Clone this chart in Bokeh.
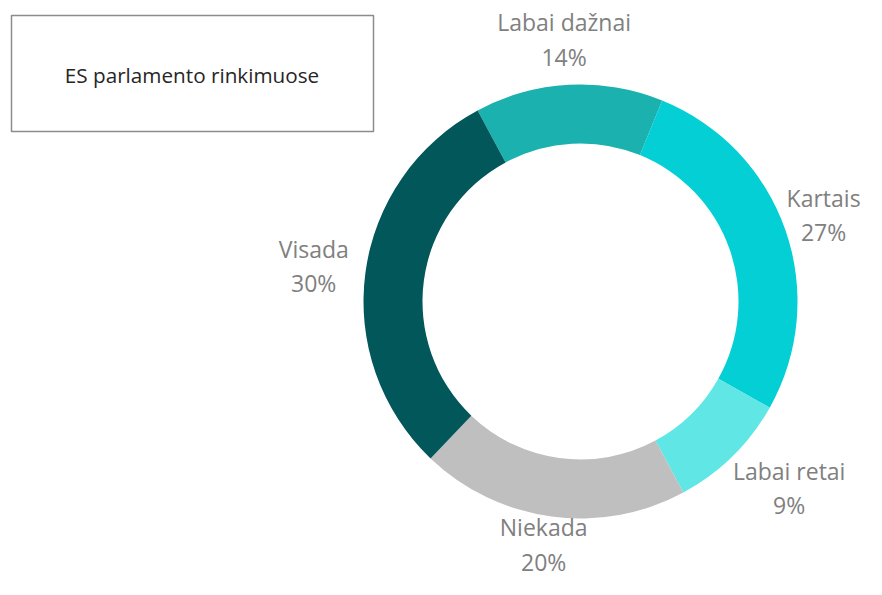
import math
from bokeh.plotting import figure
from bokeh.models import Range1d, ColumnDataSource
from bokeh.core.properties import value
from bokeh.embed import file_html
from bokeh.resources import INLINE

# ---- data ----
categories = ["Labai dažnai", "Kartais", "Labai retai", "Niekada", "Visada"]
shares = [14, 27, 9, 20, 30]
colors = ["#1BB1AE", "#03CFD4", "#61E6E6", "#BFBFBF", "#02575B"]
title_text = "ES parlamento rinkimuose"

# ---- layout ----
W, H = 866, 579
PAGE_H = 595
BASE_FIX = 8.0   # raise text so its alphabetic baseline lands where intended


def sy(y):
    return PAGE_H - y


def ty(y):
    return PAGE_H - (y - BASE_FIX)


cx, cy_s = 580, 301
r_out, r_in = 217, 158
start_deg = -28.3          # first slice start, clockwise from 12 o'clock
label_r = 235
char_w = 11.4
half_h = 27
FONT = "Open Sans"

total = float(sum(shares))
starts, ends, mids = [], [], []
cum = start_deg
for s in shares:
    a0 = cum
    a1 = cum + s / total * 360.0
    cum = a1
    starts.append(math.radians(90 - a0))
    ends.append(math.radians(90 - a1))
    mids.append((a0 + a1) / 2.0)

pcts = [f"{s}%" for s in shares]

p = figure(width=W, height=H, output_backend="svg", toolbar_location=None,
           x_range=Range1d(0, W), y_range=Range1d(PAGE_H - H, PAGE_H),
           x_axis_location=None, y_axis_location=None, min_border=0)
p.outline_line_color = None
p.grid.visible = False
p.background_fill_color = "white"
p.border_fill_color = "white"

src = ColumnDataSource(dict(start=starts, end=ends, color=colors, cat=categories))
p.annular_wedge(x=cx, y=sy(cy_s), inner_radius=r_in, outer_radius=r_out,
                start_angle="start", end_angle="end", direction="clock",
                fill_color="color", line_color=None, source=src)

# labels
lx, ly1, ly2 = [], [], []
for cat, pc, m in zip(categories, pcts, mids):
    ux = math.sin(math.radians(m))
    uy = -math.cos(math.radians(m))
    hw = max(len(cat), len(pc)) * char_w / 2.0
    xs = cx + (label_r + hw) * ux
    ys = cy_s + (label_r + half_h) * uy
    b1, b2 = ys - 9.4, ys + 25.1
    # keep the block (with descent) inside the frame
    over = b2 - (H - 10)
    if over > 0:
        b1 -= over
        b2 -= over
    xs = min(xs, W - 3 - hw)
    lx.append(xs)
    ly1.append(ty(b1))
    ly2.append(ty(b2))

lsrc = ColumnDataSource(dict(x=lx, y1=ly1, y2=ly2, cat=categories, pct=pcts))
p.text(x="x", y="y1", text="cat", source=lsrc, text_font=value(FONT),
       text_font_size="23px", text_color="#808080", text_align="center",
       text_baseline="alphabetic")
p.text(x="x", y="y2", text="pct", source=lsrc, text_font=value(FONT),
       text_font_size="23px", text_color="#808080", text_align="center",
       text_baseline="alphabetic")

# text box
p.quad(left=[11], right=[373], top=[sy(15)], bottom=[sy(131)],
       fill_color="white", line_color="#8C8C8C", line_width=1.5)
p.text(x=[191.5], y=[ty(82.7)], text=[title_text], text_font=value(FONT),
       text_font_size="20.7px", text_color="#262626", text_align="center",
       text_baseline="alphabetic")

open("out.html", "w").write(file_html(p, INLINE))
